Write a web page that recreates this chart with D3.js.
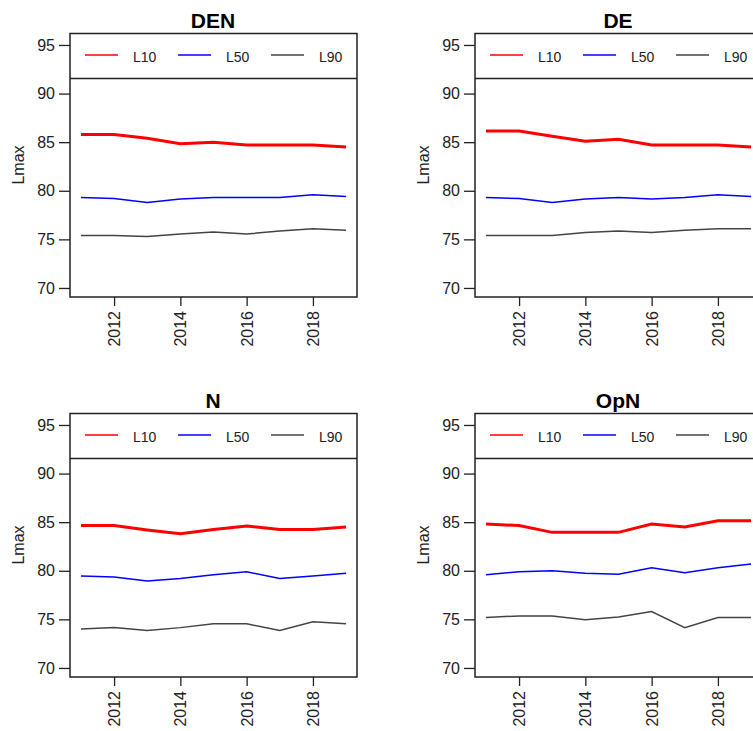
<!DOCTYPE html>
<html>
<head>
<meta charset="utf-8">
<script src="https://cdn.jsdelivr.net/npm/d3@7"></script>
<style>
  body { margin: 0; background: #fff; }
  text { font-family: "Liberation Sans", Arial, sans-serif; fill: #222; }
</style>
</head>
<body>
<svg id="chart" width="753" height="731"></svg>
<script>
// yearly values, 2011..2019
var years = [2011, 2012, 2013, 2014, 2015, 2016, 2017, 2018, 2019];
var panelNames = ['DEN', 'DE', 'N', 'OpN'];
var seriesNames = ['L10', 'L50', 'L90'];

var denL10 = [85.8, 85.8, 85.4, 84.85, 85.0, 84.7, 84.7, 84.7, 84.5];
var denL50 = [79.3, 79.2, 78.8, 79.15, 79.3, 79.3, 79.3, 79.6, 79.4];
var denL90 = [75.4, 75.4, 75.3, 75.55, 75.75, 75.55, 75.85, 76.1, 75.95];

var deL10 = [86.15, 86.15, 85.6, 85.1, 85.3, 84.7, 84.7, 84.7, 84.5];
var deL50 = [79.3, 79.2, 78.8, 79.15, 79.3, 79.15, 79.3, 79.6, 79.4];
var deL90 = [75.4, 75.4, 75.4, 75.7, 75.85, 75.7, 75.95, 76.1, 76.1];

var nL10 = [84.65, 84.65, 84.2, 83.8, 84.25, 84.6, 84.25, 84.25, 84.5];
var nL50 = [79.45, 79.35, 78.95, 79.2, 79.6, 79.9, 79.2, 79.45, 79.75];
var nL90 = [74.0, 74.15, 73.85, 74.15, 74.55, 74.55, 73.85, 74.75, 74.55];

var opnL10 = [84.8, 84.65, 83.95, 83.95, 83.95, 84.8, 84.5, 85.15, 85.15];
var opnL50 = [79.6, 79.9, 80.0, 79.75, 79.65, 80.3, 79.8, 80.3, 80.7];
var opnL90 = [75.2, 75.35, 75.35, 74.95, 75.25, 75.8, 74.15, 75.2, 75.2];

var yTicks = [70, 75, 80, 85, 90, 95];
var xTicks = [2012, 2014, 2016, 2018];

var panelData = [
  [denL10, denL50, denL90],
  [deL10, deL50, deL90],
  [nL10, nL50, nL90],
  [opnL10, opnL50, opnL90]
];

var colors = ['#ff0000', '#0000ff', '#444444'];
var widths = [3, 1.5, 1.5];
var offsets = [[0, 0], [405, 0], [0, 380], [405, 380]];

var svg = d3.select('#chart');

panelData.forEach(function(series, p) {
  var ox = offsets[p][0], oy = offsets[p][1];
  var g = svg.append('g').attr('transform', 'translate(' + ox + ',' + oy + ')');

  var x = d3.scaleLinear().domain([2010.67, 2019.33]).range([70, 357]);
  var y = d3.scaleLinear().domain([69.07, 96.18]).range([297, 33.5]);

  // title
  g.append('text')
    .attr('x', 213).attr('y', 28)
    .attr('text-anchor', 'middle')
    .style('font-size', '21px').style('font-weight', 'bold')
    .style('fill', '#000')
    .text(panelNames[p]);

  // y axis
  var ya = g.append('g').attr('transform', 'translate(70,0)')
    .call(d3.axisLeft(y).tickValues(yTicks).tickSize(11).tickPadding(4));
  ya.select('.domain').remove();
  ya.selectAll('line').attr('stroke', '#222').attr('stroke-width', 1.3);
  ya.selectAll('text').style('font-size', '16px').attr('fill', '#222');

  // x axis
  var xa = g.append('g').attr('transform', 'translate(0,297)')
    .call(d3.axisBottom(x).tickValues(xTicks).tickFormat(d3.format('d')).tickSize(9));
  xa.select('.domain').remove();
  xa.selectAll('line').attr('stroke', '#222').attr('stroke-width', 1.3);
  xa.selectAll('text')
    .style('font-size', '16px').attr('fill', '#222')
    .attr('text-anchor', 'end')
    .attr('transform', 'translate(0,14) rotate(-90)')
    .attr('x', 0).attr('y', 0).attr('dy', '0.35em');

  // y label
  g.append('text')
    .attr('transform', 'translate(24,165) rotate(-90)')
    .attr('text-anchor', 'middle')
    .style('font-size', '16px')
    .text('Lmax');

  // lines
  var line = d3.line()
    .x(function(d, i) { return x(years[i]); })
    .y(function(d) { return y(d); });

  series.forEach(function(vals, s) {
    g.append('path')
      .datum(vals)
      .attr('d', line)
      .attr('fill', 'none')
      .attr('stroke', colors[s])
      .attr('stroke-width', widths[s]);
  });

  // legend
  var legY = 55;
  g.append('line')
    .attr('x1', 70).attr('x2', 357)
    .attr('y1', y(91.55)).attr('y2', y(91.55))
    .attr('stroke', '#222').attr('stroke-width', 1.5);

  seriesNames.forEach(function(name, s) {
    var lx = 85 + s * 93;
    g.append('line')
      .attr('x1', lx).attr('x2', lx + 33)
      .attr('y1', legY).attr('y2', legY)
      .attr('stroke', colors[s]).attr('stroke-width', s === 2 ? 1.3 : 1.5);
    g.append('text')
      .attr('x', lx + 48).attr('y', legY + 2)
      .attr('dy', '0.35em')
      .style('font-size', '14px')
      .text(name);
  });

  // box
  g.append('rect')
    .attr('x', 70).attr('y', 33.5)
    .attr('width', 287).attr('height', 263.5)
    .attr('fill', 'none')
    .attr('stroke', '#222').attr('stroke-width', 1.5);
});
</script>
</body>
</html>
